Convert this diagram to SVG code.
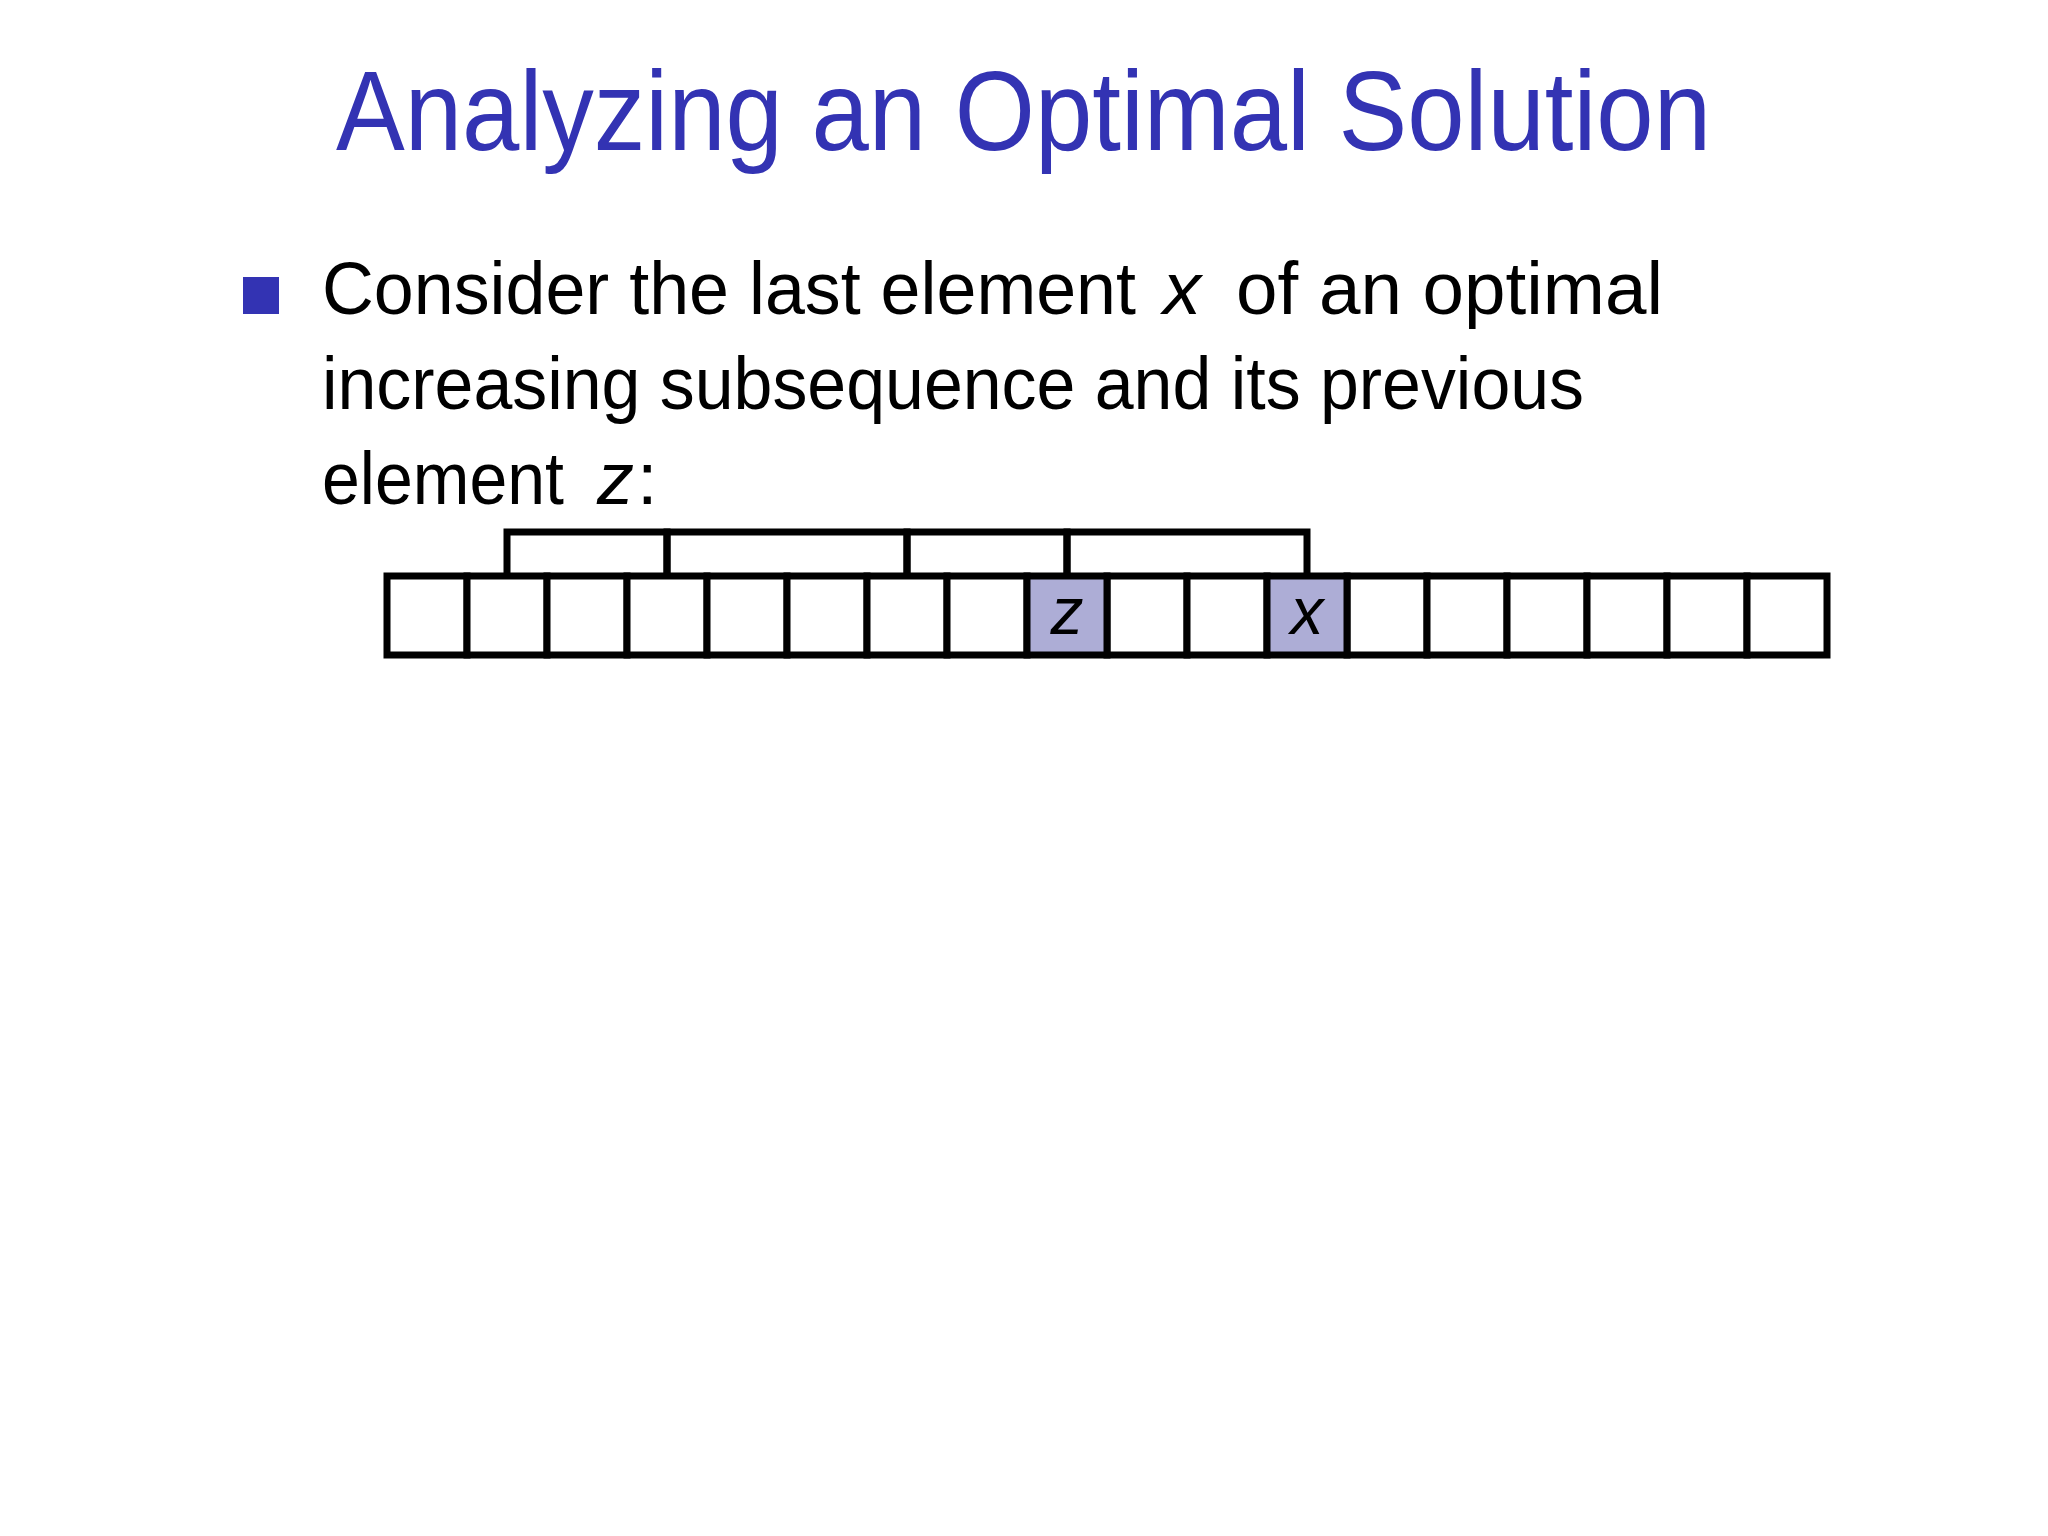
<svg xmlns="http://www.w3.org/2000/svg" width="2048" height="1536" viewBox="0 0 2048 1536">
<style>
.title{font-family:"Liberation Sans",Arial,sans-serif;font-size:114px;fill:#3333b3}
.body{font-family:"Liberation Sans",Arial,sans-serif;font-size:74px;fill:#000}
.it{font-style:italic}
.cell{fill:#fff;stroke:#000;stroke-width:7}
.hl{fill:#adadd6;stroke:#000;stroke-width:7}
.lbl{font-family:"Liberation Sans",Arial,sans-serif;font-style:italic;font-size:66px;fill:#000;text-anchor:middle}
.link{fill:none;stroke:#000;stroke-width:7;stroke-linejoin:miter;stroke-linecap:square}
</style>
<rect width="2048" height="1536" fill="#ffffff"/>
<g id="title">
<text class="title" x="336" y="150" textLength="1375" lengthAdjust="spacingAndGlyphs">Analyzing an Optimal Solution</text>
</g>
<g id="bullet">
<rect x="243" y="277" width="36" height="37" fill="#3333b3"/>
<text class="body" x="322" y="314" font-size="73" textLength="814" lengthAdjust="spacingAndGlyphs">Consider the last element</text>
<text class="body it" x="1163" y="314" textLength="38" lengthAdjust="spacingAndGlyphs">x</text>
<text class="body" x="1236" y="314" textLength="427" lengthAdjust="spacingAndGlyphs">of an optimal</text>
<text class="body" x="322" y="409" textLength="1262" lengthAdjust="spacingAndGlyphs">increasing subsequence and its previous</text>
<text class="body" x="322" y="504" textLength="242" lengthAdjust="spacingAndGlyphs">element</text>
<text class="body it" x="597" y="504">z</text>
<text class="body" x="637" y="504">:</text>
</g>
<g id="connectors">
<path class="link" d="M507 576 V532 H667 V576"/>
<path class="link" d="M667 576 V532 H907 V576"/>
<path class="link" d="M907 576 V532 H1067 V576"/>
<path class="link" d="M1067 576 V532 H1307 V576"/>
</g>
<g id="array">
<g id="cell0"><rect class="cell" x="387" y="576" width="80" height="79"/></g>
<g id="cell1"><rect class="cell" x="467" y="576" width="80" height="79"/></g>
<g id="cell2"><rect class="cell" x="547" y="576" width="80" height="79"/></g>
<g id="cell3"><rect class="cell" x="627" y="576" width="80" height="79"/></g>
<g id="cell4"><rect class="cell" x="707" y="576" width="80" height="79"/></g>
<g id="cell5"><rect class="cell" x="787" y="576" width="80" height="79"/></g>
<g id="cell6"><rect class="cell" x="867" y="576" width="80" height="79"/></g>
<g id="cell7"><rect class="cell" x="947" y="576" width="80" height="79"/></g>
<g id="cell9"><rect class="cell" x="1107" y="576" width="80" height="79"/></g>
<g id="cell10"><rect class="cell" x="1187" y="576" width="80" height="79"/></g>
<g id="cell12"><rect class="cell" x="1347" y="576" width="80" height="79"/></g>
<g id="cell13"><rect class="cell" x="1427" y="576" width="80" height="79"/></g>
<g id="cell14"><rect class="cell" x="1507" y="576" width="80" height="79"/></g>
<g id="cell15"><rect class="cell" x="1587" y="576" width="80" height="79"/></g>
<g id="cell16"><rect class="cell" x="1667" y="576" width="80" height="79"/></g>
<g id="cell17"><rect class="cell" x="1747" y="576" width="80" height="79"/></g>
<g id="cell-z"><rect class="hl" x="1027" y="576" width="80" height="79"/><text class="lbl" x="1067" y="634">z</text></g>
<g id="cell-x"><rect class="hl" x="1267" y="576" width="80" height="79"/><text class="lbl" x="1307" y="634">x</text></g>
</g>
</svg>
